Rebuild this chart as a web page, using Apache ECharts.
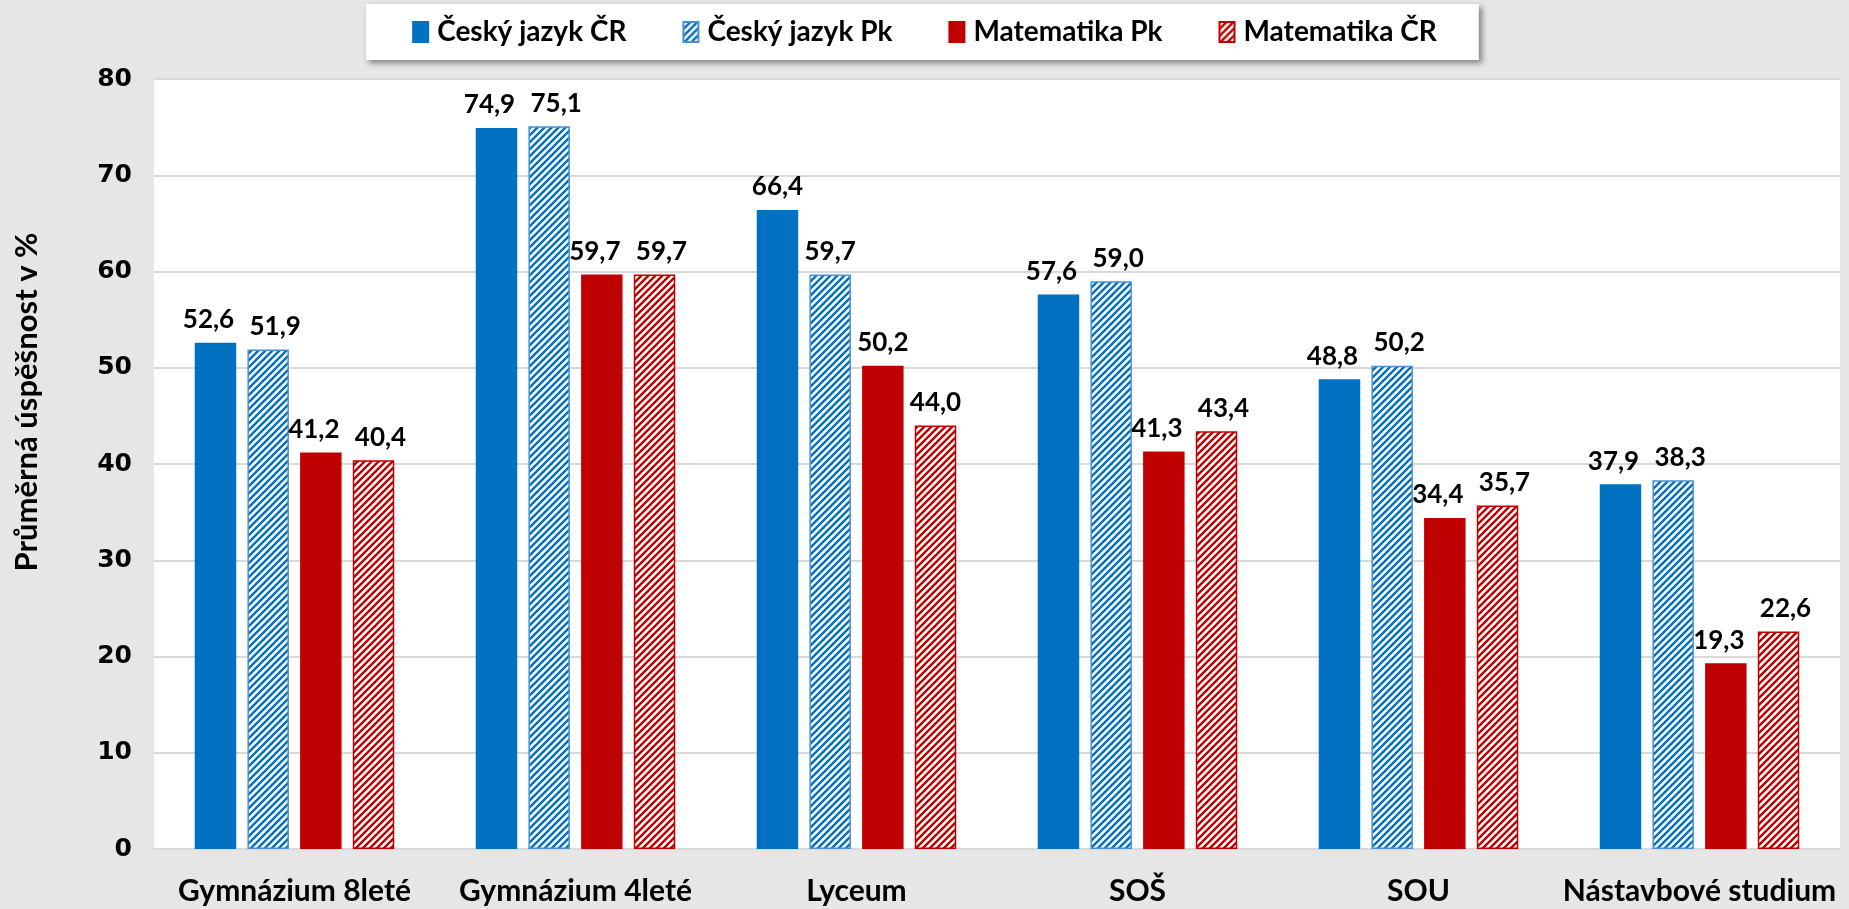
<!DOCTYPE html>
<html>
<head>
<meta charset="utf-8">
<script src="https://cdn.jsdelivr.net/npm/echarts@6/dist/echarts.min.js"></script>
<style>
  html, body { margin: 0; padding: 0; background: #e6e6e6; }
  #main { width: 1849px; height: 909px; }
</style>
</head>
<body>
<div id="main"></div>
<script>
// data
var categories = ['Gymnázium 8leté', 'Gymnázium 4leté', 'Lyceum', 'SOŠ', 'SOU', 'Nástavbové studium'];
var cjCR = [52.6, 74.9, 66.4, 57.6, 48.8, 37.9];
var cjPk = [51.9, 75.1, 59.7, 59.0, 50.2, 38.3];
var matPk = [41.2, 59.7, 50.2, 41.3, 34.4, 19.3];
var matCR = [40.4, 59.7, 44.0, 43.4, 35.7, 22.6];

var BLUE = '#0070c0';
var RED = '#c00000';
var FONT = 'Lato, "Open Sans", sans-serif';
var allSeries = [cjCR, cjPk, matPk, matCR];

// diagonal stripes like the Excel pattern fill
function stripes(color) {
    var n = 7;
    var c = document.createElement('canvas');
    c.width = n; c.height = n;
    var ctx = c.getContext('2d');
    ctx.fillStyle = '#fff';
    ctx.fillRect(0, 0, n, n);
    ctx.strokeStyle = color;
    ctx.lineWidth = 2.4;
    ctx.beginPath();
    ctx.moveTo(-1, n + 1); ctx.lineTo(n + 1, -1);
    ctx.moveTo(-1, 1); ctx.lineTo(1, -1);
    ctx.moveTo(n - 1, n + 1); ctx.lineTo(n + 1, n - 1);
    ctx.stroke();
    return { image: c, repeat: 'repeat' };
}

function fmt(v) { return v.toFixed(1).replace('.', ','); }

// push labels of neighbouring bars with similar height apart
function spread(p) {
    var s = p.seriesIndex, i = p.dataIndex, v = allSeries[s][i], dx = 0;
    if (s > 0 && Math.abs(allSeries[s - 1][i] - v) < 3.6) dx += 7;
    if (s < 3 && Math.abs(allSeries[s + 1][i] - v) < 3.6) dx -= 7;
    return { dx: dx };
}

function bar(name, data, fill, border) {
    return {
        name: name,
        type: 'bar',
        data: data,
        barGap: '27%',
        barCategoryGap: '29%',
        itemStyle: { color: fill, borderColor: border, borderWidth: 1.5 },
        label: {
            show: true,
            position: 'top',
            distance: 10,
            color: '#000',
            fontFamily: FONT,
            fontWeight: 'bold',
            fontSize: 26,
            formatter: function (p) { return fmt(p.value); }
        },
        labelLayout: spread
    };
}

var myChart = echarts.init(document.getElementById('main'));
var option = {
    backgroundColor: '#e6e6e6',
    animation: false,
    legend: {
        top: 4,
        left: 'center',
        padding: [11, 42, 11, 46],
        backgroundColor: '#fff',
        shadowColor: 'rgba(0,0,0,0.45)',
        shadowBlur: 6,
        shadowOffsetX: 3,
        shadowOffsetY: 3,
        icon: 'rect',
        itemWidth: 15,
        itemHeight: 20,
        itemGap: 56,
        textStyle: { fontFamily: FONT, fontWeight: 'bold', fontSize: 28, lineHeight: 34, color: '#000', padding: [0, 0, 0, 4] },
        data: ['Český jazyk ČR', 'Český jazyk Pk', 'Matematika Pk', 'Matematika ČR']
    },
    grid: {
        left: 154,
        right: 9,
        top: 79,
        bottom: 60,
        show: true,
        backgroundColor: '#fff',
        borderWidth: 0
    },
    xAxis: {
        type: 'category',
        data: categories,
        axisTick: { show: false },
        axisLine: { lineStyle: { color: '#d9d9d9', width: 2 } },
        axisLabel: { margin: 27, color: '#000', fontFamily: FONT, fontWeight: 'bold', fontSize: 30, interval: 0 }
    },
    yAxis: {
        type: 'value',
        min: 0,
        max: 80,
        interval: 10,
        name: 'Průměrná úspěšnost v %',
        nameLocation: 'middle',
        nameGap: 112,
        nameTextStyle: { fontFamily: FONT, fontWeight: 'bold', fontSize: 31, color: '#000', padding: [0, 0, 0, 124] },
        axisLabel: { margin: 22, color: '#000', fontFamily: '"DejaVu Sans", sans-serif', fontWeight: 'bold', fontSize: 25 },
        splitLine: { lineStyle: { color: '#d9d9d9', width: 2 } }
    },
    series: [
        bar('Český jazyk ČR', cjCR, BLUE, BLUE),
        bar('Český jazyk Pk', cjPk, stripes(BLUE), '#4a90d0'),
        bar('Matematika Pk', matPk, RED, RED),
        bar('Matematika ČR', matCR, stripes(RED), RED)
    ]
};
myChart.setOption(option);
</script>
</body>
</html>
